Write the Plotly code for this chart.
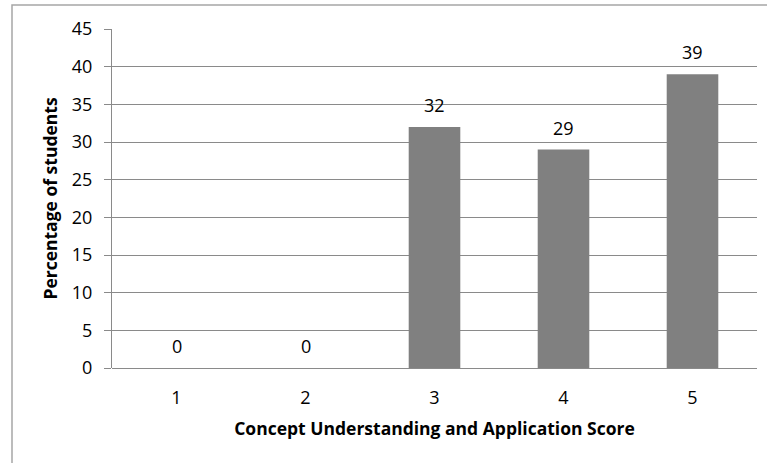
import plotly.graph_objects as go

# Score categories and share of students in each
scores = ["1", "2", "3", "4", "5"]
percentages = [0, 0, 32, 29, 39]
y_ticks = [0, 5, 10, 15, 20, 25, 30, 35, 40, 45]

FONT = "Open Sans"
GRID = "#8a8a8a"
TICK_SIZE = 18
TITLE_SIZE = 17.5

fig = go.Figure(
    go.Bar(
        x=list(range(len(scores))),
        y=percentages,
        marker=dict(color="#808080", line=dict(width=0)),
        width=0.4,
        showlegend=False,
        hoverinfo="y",
    )
)

# Value labels above each bar
for i, v in enumerate(percentages):
    fig.add_annotation(
        x=i, y=v, text=str(v), showarrow=False,
        yanchor="bottom", yshift=8,
        font=dict(family=FONT, size=TICK_SIZE, color="#000000"),
    )

# Outer chart frame (top and left edges)
W, H = 767, 463
L, R, T, B = 112, 10, 29, 95
pw, ph = W - L - R, H - T - B


def px_x(px):
    return (px - L) / pw


def px_y(py):
    return (H - B - py) / ph


fig.add_shape(
    type="path", xref="paper", yref="paper",
    path=f"M {px_x(12)} {px_y(470)} L {px_x(12)} {px_y(5)} L {px_x(780)} {px_y(5)}",
    line=dict(color="#a6a6a6", width=1.5),
)

fig.update_layout(
    width=W, height=H,
    margin=dict(l=L, r=R, t=T, b=B),
    paper_bgcolor="white",
    plot_bgcolor="white",
    font=dict(family=FONT, size=TICK_SIZE, color="#000000"),
    xaxis=dict(
        title=dict(text="<b>Concept Understanding and Application Score</b>",
                   font=dict(family=FONT, size=TITLE_SIZE), standoff=14),
        range=[-0.5, len(scores) - 0.5],
        tickvals=list(range(len(scores))), ticktext=scores,
        showline=False, ticks="", showgrid=False, zeroline=False,
        tickfont=dict(family=FONT, size=TICK_SIZE),
        ticklabelstandoff=17,
    ),
    yaxis=dict(
        title=dict(text="<b>Percentage of students</b>",
                   font=dict(family=FONT, size=TITLE_SIZE), standoff=9),
        range=[0, 45], tickvals=y_ticks,
        showgrid=True, gridcolor=GRID, gridwidth=1,
        showline=True, linecolor=GRID, linewidth=1,
        ticks="outside", ticklen=7, tickcolor=GRID,
        tickfont=dict(family=FONT, size=TICK_SIZE),
        ticklabelstandoff=8,
        zeroline=True, zerolinecolor=GRID, zerolinewidth=1,
    ),
)

fig.write_html("out.html")
